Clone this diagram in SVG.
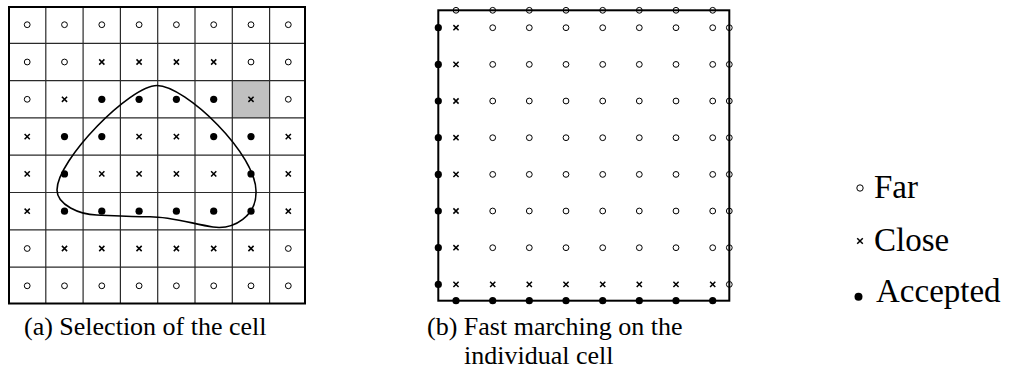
<svg xmlns="http://www.w3.org/2000/svg" xmlns:xlink="http://www.w3.org/1999/xlink" width="1010" height="379" viewBox="0 0 1010 379">
  <style>
    .grid { stroke: #2a2a2a; stroke-width: 1.2; fill: none; }
    .frame { stroke: #000; stroke-width: 2; fill: none; }
    .front { stroke: #000; stroke-width: 1.6; fill: none; }
    .cap { font-family: "Liberation Serif", "Times New Roman", serif; font-size: 26px; fill: #000; }
    .leg { font-family: "Liberation Serif", "Times New Roman", serif; font-size: 33px; fill: #000; }
  </style>
  <defs>
    <!-- far: open circle -->
    <circle id="far" r="2.9" fill="none" stroke="#000" stroke-width="1"/>
    <!-- close: small cross -->
    <path id="close" d="M-2.6,-2.6 L2.6,2.6 M-2.6,2.6 L2.6,-2.6" stroke="#000" stroke-width="1.5" fill="none"/>
    <!-- accepted: filled dot -->
    <circle id="acc" r="3.6" fill="#000"/>
  </defs>

  <rect width="1010" height="379" fill="#fff"/>

  <!-- (a) coarse grid with the front -->
  <g id="panel-a">
    <rect x="232.3" y="80.6" width="37.3" height="37.3" fill="#c0c0c0"/>
    <path class="grid" d="M45.8,7V303.5 M83.1,7V303.5 M120.4,7V303.5 M157.7,7V303.5 M195,7V303.5 M232.3,7V303.5 M269.6,7V303.5
                          M9,43.3H305 M9,80.6H305 M9,117.9H305 M9,155.2H305 M9,192.5H305 M9,229.8H305 M9,267.1H305"/>
    <rect class="frame" x="9" y="7" width="296" height="296.5"/>

    <g id="row0">
      <use xlink:href="#far" x="27.2" y="24.7"/><use xlink:href="#far" x="64.5" y="24.7"/><use xlink:href="#far" x="101.8" y="24.7"/><use xlink:href="#far" x="139.1" y="24.7"/>
      <use xlink:href="#far" x="176.4" y="24.7"/><use xlink:href="#far" x="213.7" y="24.7"/><use xlink:href="#far" x="251" y="24.7"/><use xlink:href="#far" x="288.3" y="24.7"/>
    </g>
    <g id="row1">
      <use xlink:href="#far" x="27.2" y="62"/><use xlink:href="#far" x="64.5" y="62"/><use xlink:href="#close" x="101.8" y="62"/><use xlink:href="#close" x="139.1" y="62"/>
      <use xlink:href="#close" x="176.4" y="62"/><use xlink:href="#close" x="213.7" y="62"/><use xlink:href="#far" x="251" y="62"/><use xlink:href="#far" x="288.3" y="62"/>
    </g>
    <g id="row2">
      <use xlink:href="#far" x="27.2" y="99.3"/><use xlink:href="#close" x="64.5" y="99.3"/><use xlink:href="#acc" x="101.8" y="99.3"/><use xlink:href="#acc" x="139.1" y="99.3"/>
      <use xlink:href="#acc" x="176.4" y="99.3"/><use xlink:href="#acc" x="213.7" y="99.3"/><use xlink:href="#close" x="251" y="99.3"/><use xlink:href="#far" x="288.3" y="99.3"/>
    </g>
    <g id="row3">
      <use xlink:href="#close" x="27.2" y="136.6"/><use xlink:href="#acc" x="64.5" y="136.6"/><use xlink:href="#acc" x="101.8" y="136.6"/><use xlink:href="#close" x="139.1" y="136.6"/>
      <use xlink:href="#close" x="176.4" y="136.6"/><use xlink:href="#acc" x="213.7" y="136.6"/><use xlink:href="#acc" x="251" y="136.6"/><use xlink:href="#close" x="288.3" y="136.6"/>
    </g>
    <g id="row4">
      <use xlink:href="#close" x="27.2" y="173.9"/><use xlink:href="#acc" x="64.5" y="173.9"/><use xlink:href="#close" x="101.8" y="173.9"/><use xlink:href="#close" x="139.1" y="173.9"/>
      <use xlink:href="#close" x="176.4" y="173.9"/><use xlink:href="#close" x="213.7" y="173.9"/><use xlink:href="#acc" x="251" y="173.9"/><use xlink:href="#close" x="288.3" y="173.9"/>
    </g>
    <g id="row5">
      <use xlink:href="#close" x="27.2" y="211.2"/><use xlink:href="#acc" x="64.5" y="211.2"/><use xlink:href="#acc" x="101.8" y="211.2"/><use xlink:href="#acc" x="139.1" y="211.2"/>
      <use xlink:href="#acc" x="176.4" y="211.2"/><use xlink:href="#acc" x="213.7" y="211.2"/><use xlink:href="#acc" x="251" y="211.2"/><use xlink:href="#close" x="288.3" y="211.2"/>
    </g>
    <g id="row6">
      <use xlink:href="#far" x="27.2" y="248.5"/><use xlink:href="#close" x="64.5" y="248.5"/><use xlink:href="#close" x="101.8" y="248.5"/><use xlink:href="#close" x="139.1" y="248.5"/>
      <use xlink:href="#close" x="176.4" y="248.5"/><use xlink:href="#close" x="213.7" y="248.5"/><use xlink:href="#close" x="251" y="248.5"/><use xlink:href="#far" x="288.3" y="248.5"/>
    </g>
    <g id="row7">
      <use xlink:href="#far" x="27.2" y="285.8"/><use xlink:href="#far" x="64.5" y="285.8"/><use xlink:href="#far" x="101.8" y="285.8"/><use xlink:href="#far" x="139.1" y="285.8"/>
      <use xlink:href="#far" x="176.4" y="285.8"/><use xlink:href="#far" x="213.7" y="285.8"/><use xlink:href="#far" x="251" y="285.8"/><use xlink:href="#far" x="288.3" y="285.8"/>
    </g>

    <!-- interface curve -->
    <path id="front" class="front" d="M157,85.5 C185,85.5 258,155 256,193 C256,215 235,230 213,227 C195,224.5 172,216.7 150,216.7 C130,216.7 110,215.5 96.7,215 C80,214.5 57,205 57,190 C57,160 130,85.5 157,85.5 Z"/>

    <text class="cap" x="24" y="335">(a) Selection of the cell</text>
  </g>

  <!-- (b) fine sampling of the selected cell -->
  <g id="panel-b">
    <rect class="frame" x="438.3" y="10.3" width="291" height="290.4"/>

    <!-- boundary values: accepted on the left and bottom, far on the top and right -->
    <g id="edge-left">
      <use xlink:href="#acc" x="438.3" y="27.7"/><use xlink:href="#acc" x="438.3" y="64.4"/><use xlink:href="#acc" x="438.3" y="101"/><use xlink:href="#acc" x="438.3" y="137.7"/>
      <use xlink:href="#acc" x="438.3" y="174.4"/><use xlink:href="#acc" x="438.3" y="211"/><use xlink:href="#acc" x="438.3" y="247.7"/><use xlink:href="#acc" x="438.3" y="284.4"/>
    </g>
    <g id="edge-bottom">
      <use xlink:href="#acc" x="456" y="300.7"/><use xlink:href="#acc" x="492.7" y="300.7"/><use xlink:href="#acc" x="529.3" y="300.7"/><use xlink:href="#acc" x="566" y="300.7"/>
      <use xlink:href="#acc" x="602.7" y="300.7"/><use xlink:href="#acc" x="639.3" y="300.7"/><use xlink:href="#acc" x="676" y="300.7"/><use xlink:href="#acc" x="712.7" y="300.7"/>
    </g>
    <g id="edge-top">
      <use xlink:href="#far" x="456" y="10.3"/><use xlink:href="#far" x="492.7" y="10.3"/><use xlink:href="#far" x="529.3" y="10.3"/><use xlink:href="#far" x="566" y="10.3"/>
      <use xlink:href="#far" x="602.7" y="10.3"/><use xlink:href="#far" x="639.3" y="10.3"/><use xlink:href="#far" x="676" y="10.3"/><use xlink:href="#far" x="712.7" y="10.3"/>
    </g>
    <g id="edge-right">
      <use xlink:href="#far" x="729.3" y="27.7"/><use xlink:href="#far" x="729.3" y="64.4"/><use xlink:href="#far" x="729.3" y="101"/><use xlink:href="#far" x="729.3" y="137.7"/>
      <use xlink:href="#far" x="729.3" y="174.4"/><use xlink:href="#far" x="729.3" y="211"/><use xlink:href="#far" x="729.3" y="247.7"/><use xlink:href="#far" x="729.3" y="284.4"/>
    </g>

    <!-- interior nodes: close along the first column and last row, far elsewhere -->
    <g id="interior-close">
      <use xlink:href="#close" x="456" y="27.7"/><use xlink:href="#close" x="456" y="64.4"/><use xlink:href="#close" x="456" y="101"/><use xlink:href="#close" x="456" y="137.7"/>
      <use xlink:href="#close" x="456" y="174.4"/><use xlink:href="#close" x="456" y="211"/><use xlink:href="#close" x="456" y="247.7"/><use xlink:href="#close" x="456" y="284.4"/>
      <use xlink:href="#close" x="492.7" y="284.4"/><use xlink:href="#close" x="529.3" y="284.4"/><use xlink:href="#close" x="566" y="284.4"/><use xlink:href="#close" x="602.7" y="284.4"/>
      <use xlink:href="#close" x="639.3" y="284.4"/><use xlink:href="#close" x="676" y="284.4"/><use xlink:href="#close" x="712.7" y="284.4"/>
    </g>
    <g id="interior-far">
      <use xlink:href="#far" x="492.7" y="27.7"/><use xlink:href="#far" x="529.3" y="27.7"/><use xlink:href="#far" x="566" y="27.7"/><use xlink:href="#far" x="602.7" y="27.7"/><use xlink:href="#far" x="639.3" y="27.7"/><use xlink:href="#far" x="676" y="27.7"/><use xlink:href="#far" x="712.7" y="27.7"/>
      <use xlink:href="#far" x="492.7" y="64.4"/><use xlink:href="#far" x="529.3" y="64.4"/><use xlink:href="#far" x="566" y="64.4"/><use xlink:href="#far" x="602.7" y="64.4"/><use xlink:href="#far" x="639.3" y="64.4"/><use xlink:href="#far" x="676" y="64.4"/><use xlink:href="#far" x="712.7" y="64.4"/>
      <use xlink:href="#far" x="492.7" y="101"/><use xlink:href="#far" x="529.3" y="101"/><use xlink:href="#far" x="566" y="101"/><use xlink:href="#far" x="602.7" y="101"/><use xlink:href="#far" x="639.3" y="101"/><use xlink:href="#far" x="676" y="101"/><use xlink:href="#far" x="712.7" y="101"/>
      <use xlink:href="#far" x="492.7" y="137.7"/><use xlink:href="#far" x="529.3" y="137.7"/><use xlink:href="#far" x="566" y="137.7"/><use xlink:href="#far" x="602.7" y="137.7"/><use xlink:href="#far" x="639.3" y="137.7"/><use xlink:href="#far" x="676" y="137.7"/><use xlink:href="#far" x="712.7" y="137.7"/>
      <use xlink:href="#far" x="492.7" y="174.4"/><use xlink:href="#far" x="529.3" y="174.4"/><use xlink:href="#far" x="566" y="174.4"/><use xlink:href="#far" x="602.7" y="174.4"/><use xlink:href="#far" x="639.3" y="174.4"/><use xlink:href="#far" x="676" y="174.4"/><use xlink:href="#far" x="712.7" y="174.4"/>
      <use xlink:href="#far" x="492.7" y="211"/><use xlink:href="#far" x="529.3" y="211"/><use xlink:href="#far" x="566" y="211"/><use xlink:href="#far" x="602.7" y="211"/><use xlink:href="#far" x="639.3" y="211"/><use xlink:href="#far" x="676" y="211"/><use xlink:href="#far" x="712.7" y="211"/>
      <use xlink:href="#far" x="492.7" y="247.7"/><use xlink:href="#far" x="529.3" y="247.7"/><use xlink:href="#far" x="566" y="247.7"/><use xlink:href="#far" x="602.7" y="247.7"/><use xlink:href="#far" x="639.3" y="247.7"/><use xlink:href="#far" x="676" y="247.7"/><use xlink:href="#far" x="712.7" y="247.7"/>
    </g>

    <text class="cap" x="427" y="335">(b) Fast marching on the</text>
    <text class="cap" x="464" y="364">individual cell</text>
  </g>

  <!-- legend -->
  <g id="legend">
    <circle cx="860" cy="188" r="3.2" fill="none" stroke="#000" stroke-width="1"/>
    <text class="leg" x="874" y="198">Far</text>
    <path d="M857.2,238.2 L862.8,243.8 M857.2,243.8 L862.8,238.2" stroke="#000" stroke-width="1.5" fill="none"/>
    <text class="leg" x="874" y="251">Close</text>
    <circle cx="858.5" cy="296.7" r="4" fill="#000"/>
    <text class="leg" x="876" y="301.5">Accepted</text>
  </g>
</svg>
